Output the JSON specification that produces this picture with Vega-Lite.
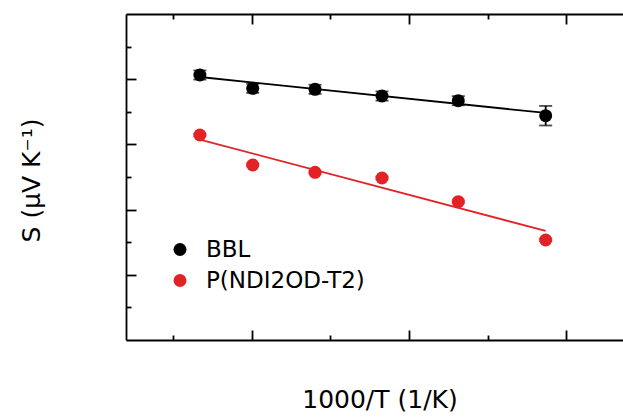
{
  "$schema": "https://vega.github.io/schema/vega-lite/v6.json",
  "width": 497,
  "height": 326,
  "autosize": {"type": "none"},
  "padding": {"left": 126, "top": 14, "right": 0, "bottom": 79},
  "background": "white",
  "config": {
    "view": {"stroke": null},
    "font": "DejaVu Sans",
    "axis": {"domainColor": "black", "domainWidth": 1.8, "tickColor": "black", "tickWidth": 1.8, "labels": false, "grid": false,
      "titleFont": "DejaVu Sans", "titleFontSize": 25, "titleFontWeight": "normal", "titleColor": "black"},
    "legend": {"labelFont": "DejaVu Sans", "labelFontSize": 23, "labelColor": "black"}
  },
  "datasets": {
    "points": [
      {"series": "BBL", "x": 2.9336, "y": 406.4, "ylo": 399.4, "yhi": 413.4},
      {"series": "BBL", "x": 3.0009, "y": 386.0, "ylo": 379.0, "yhi": 393.0},
      {"series": "BBL", "x": 3.0803, "y": 384.5, "ylo": 377.5, "yhi": 391.5},
      {"series": "BBL", "x": 3.1656, "y": 374.2, "ylo": 367.2, "yhi": 381.2},
      {"series": "BBL", "x": 3.2628, "y": 367.0, "ylo": 360.0, "yhi": 374.0},
      {"series": "BBL", "x": 3.3741, "y": 344.0, "ylo": 329.0, "yhi": 359.0},
      {"series": "P(NDI2OD-T2)", "x": 2.9336, "y": 314.4, "ylo": 312.4, "yhi": 316.4},
      {"series": "P(NDI2OD-T2)", "x": 3.0009, "y": 268.4, "ylo": 266.4, "yhi": 270.4},
      {"series": "P(NDI2OD-T2)", "x": 3.0803, "y": 257.2, "ylo": 255.2, "yhi": 259.2},
      {"series": "P(NDI2OD-T2)", "x": 3.1656, "y": 248.5, "ylo": 246.5, "yhi": 250.5},
      {"series": "P(NDI2OD-T2)", "x": 3.2628, "y": 212.1, "ylo": 210.1, "yhi": 214.1},
      {"series": "P(NDI2OD-T2)", "x": 3.3741, "y": 153.4, "ylo": 151.4, "yhi": 155.4}
    ],
    "fits": [
      {"series": "BBL", "x": 2.9336, "y": 403.4},
      {"series": "BBL", "x": 3.3741, "y": 348.2},
      {"series": "P(NDI2OD-T2)", "x": 2.9336, "y": 307.5},
      {"series": "P(NDI2OD-T2)", "x": 3.3741, "y": 167.2}
    ]
  },
  "resolve": {"axis": {"x": "independent"}},
  "layer": [
    {
      "data": {"name": "fits"},
      "transform": [{"filter": "datum.series == 'BBL'"}],
      "mark": {"type": "line", "color": "black", "strokeWidth": 1.8},
      "encoding": {
        "x": {"field": "x", "type": "quantitative", "scale": {"domain": [2.8395, 3.4726], "nice": false, "zero": false},
          "axis": {"orient": "bottom", "values": [2.9, 3.0, 3.1, 3.2, 3.3, 3.4],
            "tickSize": {"condition": {"test": "round(datum.value*10) % 2 == 0", "value": -10}, "value": -5},
            "title": "1000/T (1/K)",
            "titleX": 253.5, "titleY": 67, "titleAlign": "center", "titleBaseline": "alphabetic"}},
        "y": {"field": "y", "type": "quantitative", "title": "S (μV K⁻¹)", "scale": {"domain": [0, 500], "nice": false},
          "axis": {"orient": "left", "values": [50, 100, 150, 200, 250, 300, 350, 400, 450],
            "tickSize": {"condition": {"test": "datum.value % 100 == 0", "value": -10}, "value": -5},
            "titleX": -95, "titleY": 166, "titleAngle": -90, "titleAlign": "center", "titleBaseline": "middle"}}
      }
    },
    {
      "data": {"name": "fits"},
      "transform": [{"filter": "datum.series != 'BBL'"}],
      "mark": {"type": "line", "color": "#e32226", "strokeWidth": 1.8},
      "encoding": {
        "x": {"field": "x", "type": "quantitative",
          "axis": {"orient": "top", "values": [2.9, 3.0, 3.1, 3.2, 3.3, 3.4],
            "tickSize": {"condition": {"test": "round(datum.value*10) % 2 == 0", "value": -10}, "value": -5},
            "title": null}},
        "y": {"field": "y", "type": "quantitative", "title": "S (μV K⁻¹)"}
      }
    },
    {
      "data": {"name": "points"},
      "transform": [{"filter": "datum.series == 'BBL'"}],
      "mark": {"type": "errorbar", "color": "black", "ticks": {"size": 13, "thickness": 1.8}, "rule": {"strokeWidth": 1.8}},
      "encoding": {
        "x": {"field": "x", "type": "quantitative", "axis": null},
        "y": {"field": "ylo", "type": "quantitative", "title": "S (μV K⁻¹)"},
        "y2": {"field": "yhi"}
      }
    },
    {
      "data": {"name": "points"},
      "transform": [{"filter": "datum.series != 'BBL'"}],
      "mark": {"type": "errorbar", "color": "#e32226", "ticks": {"size": 13, "thickness": 1.8}, "rule": {"strokeWidth": 1.8}},
      "encoding": {
        "x": {"field": "x", "type": "quantitative", "axis": null},
        "y": {"field": "ylo", "type": "quantitative", "title": "S (μV K⁻¹)"},
        "y2": {"field": "yhi"}
      }
    },
    {
      "data": {"name": "points"},
      "mark": {"type": "circle", "size": 169, "opacity": 1},
      "encoding": {
        "x": {"field": "x", "type": "quantitative", "axis": null},
        "y": {"field": "y", "type": "quantitative", "title": "S (μV K⁻¹)"},
        "color": {"field": "series", "type": "nominal", "scale": {"domain": ["BBL", "P(NDI2OD-T2)"], "range": ["black", "#e32226"]},
          "legend": {"orient": "none", "legendX": 42.5, "legendY": 224, "title": null, "padding": 0,
            "symbolType": "circle", "symbolSize": 169, "symbolStrokeWidth": 0, "symbolOpacity": 1,
            "labelOffset": 14.5, "rowPadding": 7, "labelLimit": 300}}
      }
    }
  ]
}
